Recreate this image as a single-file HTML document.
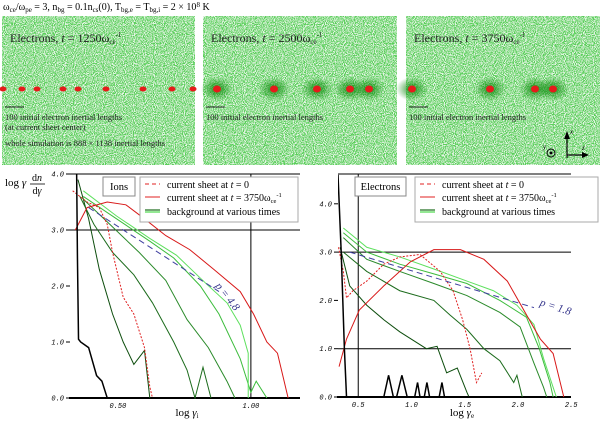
<!DOCTYPE html>
<html><head><meta charset="utf-8"><style>
html,body{margin:0;padding:0;background:#fff;width:600px;height:421px;overflow:hidden}
svg{display:block;font-family:"Liberation Serif","DejaVu Serif",serif}
.tk{font-family:"Liberation Mono",monospace;font-size:7px;font-style:italic}
</style></head><body>
<svg id="fig" width="600" height="421" viewBox="0 0 600 421" xmlns="http://www.w3.org/2000/svg">
<defs>
<filter id="spk" x="0" y="0" width="1" height="1">
<feTurbulence type="fractalNoise" baseFrequency="1.1" numOctaves="1" seed="3" result="n"/>
<feColorMatrix in="n" type="matrix" values="0 0 0 0 0.1  0 0 0 0 0.62  0 0 0 0 0.1  12 0 0 0 -5.4" result="g"/>
<feComposite in="g" in2="SourceGraphic" operator="in"/>
</filter>
<radialGradient id="halo"><stop offset="0" stop-color="#0e8a0e" stop-opacity="0.9"/><stop offset="1" stop-color="#0e8a0e" stop-opacity="0"/></radialGradient>
</defs>
<text x="3" y="10" font-size="10">ω<tspan font-size="7" dy="2">ce</tspan><tspan dy="-2">/ω</tspan><tspan font-size="7" dy="2">pe</tspan><tspan dy="-2"> = 3, n</tspan><tspan font-size="7" dy="2">bg</tspan><tspan dy="-2"> = 0.1n</tspan><tspan font-size="7" dy="2">cs</tspan><tspan dy="-2">(0), T</tspan><tspan font-size="7" dy="2">bg,e</tspan><tspan dy="-2"> = T</tspan><tspan font-size="7" dy="2">bg,i</tspan><tspan dy="-2"> = 2 × 10</tspan><tspan font-size="7" dy="-3">8</tspan><tspan dy="3"> K</tspan></text>
<g id="panels"></g>
<g id="plots"></g>
</svg>
<script>
// ---------- Ions plot data (x: log gamma_i, y: log gamma dn/dgamma) ----------
const ionXTicks=[0.5,1.0];
const ionXTickLabels=["0.50","1.00"];
const ionYTicks=[0,1,2,3,4];
const ionYTickLabels=["0.0","1.0","2.0","3.0","4.0"];
const ionBlackX=[0.345,0.348,0.352,0.36,0.39,0.42,0.44,0.46];
const ionBlackY=[4.0,2.5,1.05,1.0,0.9,0.4,0.3,0.0];
const ionG1X=[0.35,0.39,0.43,0.48,0.52,0.56,0.60,0.62];
const ionG1Y=[3.9,3.2,2.3,1.5,1.0,0.6,0.85,0.0];
const ionG2X=[0.357,0.41,0.48,0.56,0.63,0.71,0.76,0.79,0.82,0.85];
const ionG2Y=[3.6,3.1,2.6,2.2,1.7,1.0,0.5,0.0,0.55,0.0];
const ionG3X=[0.37,0.47,0.58,0.68,0.76,0.84,0.91,0.94];
const ionG3Y=[3.55,3.1,2.6,2.1,1.4,0.9,0.3,0.0];
const ionG4X=[0.37,0.495,0.62,0.71,0.81,0.88,0.96,1.0,1.02,1.06];
const ionG4Y=[3.6,3.2,2.8,2.5,2.0,1.5,0.7,0.1,0.3,0.0];
const ionG5X=[0.37,0.495,0.62,0.72,0.83,0.91,0.96,0.99,0.99];
const ionG5Y=[3.7,3.25,2.85,2.55,2.05,1.7,1.3,0.8,0.0];
const ionRedX=[0.34,0.384,0.46,0.53,0.60,0.68,0.77,0.86,0.96,1.01,1.06,1.1,1.14];
const ionRedY=[3.0,3.4,3.5,3.45,3.2,2.9,2.65,2.3,1.9,1.5,1.0,0.8,0.0];
const ionRedDX=[0.33,0.384,0.43,0.46,0.48,0.52,0.56,0.6,0.62,0.63];
const ionRedDY=[3.7,3.5,3.4,3.1,2.6,1.8,1.5,0.9,0.2,0.0];
const ionFitX=[0.39,0.88];
const ionFitY=[3.4,1.9];
// ---------- Electrons plot data ----------
const eXTicks=[0.5,1.0,1.5,2.0,2.5];
const eXTickLabels=["0.5","1.0","1.5","2.0","2.5"];
const eYTicks=[0,1,2,3,4];
const eYTickLabels=["0.0","1.0","2.0","3.0","4.0"];
const eBlackX=[0.31,0.34,0.37,0.39,0.40,0.74,0.785,0.83,0.86,0.91,0.96,1.03,1.057,1.08,1.12,1.145,1.17,1.26,1.286,1.31,1.6];
const eBlackY=[4.6,3.0,1.0,0.0,0.0,0.0,0.45,0.0,0.0,0.45,0.0,0.0,0.3,0.0,0.0,0.3,0.0,0.0,0.3,0.0,0.0];
const eG1X=[0.33,0.42,0.58,0.74,0.89,1.14,1.24,1.33,1.43,1.52,1.54];
const eG1Y=[3.1,2.3,1.9,1.6,1.35,1.0,1.05,0.5,0.6,0.1,0.0];
const eG2X=[0.36,0.58,0.89,1.21,1.36,1.52,1.68,1.83,1.96,1.99,2.04];
const eG2Y=[3.0,2.6,2.2,2.0,1.7,1.4,1.0,0.75,0.3,0.45,0.0];
const eG3X=[0.36,0.58,0.89,1.21,1.52,1.83,2.02,2.15,2.24,2.27];
const eG3Y=[3.3,2.85,2.6,2.35,2.1,1.75,1.45,0.7,0.2,0.0];
const eG4X=[0.36,0.58,0.89,1.21,1.52,1.83,2.08,2.2,2.3,2.33];
const eG4Y=[3.4,3.0,2.75,2.55,2.35,2.0,1.65,1.0,0.3,0.0];
const eG5X=[0.36,0.58,0.89,1.21,1.52,1.77,1.99,2.15,2.24,2.33,2.36];
const eG5Y=[3.5,3.1,2.9,2.65,2.4,2.2,1.9,1.5,0.8,0.2,0.0];
const eRedX=[0.32,0.39,0.51,0.74,0.99,1.21,1.46,1.68,1.9,2.08,2.21,2.33,2.43];
const eRedY=[0.63,1.2,1.8,2.3,2.8,3.05,3.05,2.85,2.4,1.7,1.2,0.9,0.0];
const eRedDX=[0.315,0.36,0.39,0.45,0.58,0.74,0.89,1.08,1.27,1.39,1.48,1.55,1.61,1.66];
const eRedDY=[3.1,2.6,2.05,2.2,2.4,2.75,2.9,2.95,2.6,2.2,1.6,1.0,0.3,0.5];
const eFitX=[0.42,2.15];
const eFitY=[3.0,1.85];

const NS="http://www.w3.org/2000/svg";
function mk(tag,attrs,parent){const e=document.createElementNS(NS,tag);for(const k in attrs)e.setAttribute(k,attrs[k]);parent.appendChild(e);return e;}

// ---------- top panels ----------
const panels=document.getElementById('panels');
const panelDefs=[{x:2,w:193,t:"1250",blobs:[3,22,37,63,78,106,143,172,193],halo:false},
{x:203,w:194,t:"2500",blobs:[217,274,317,350,369],halo:true},
{x:406,w:194,t:"3750",blobs:[412,490,535,553],halo:true}];
panelDefs.forEach((p,i)=>{
 const g=mk('g',{},panels);
 
 
 mk('rect',{x:p.x,y:16,width:p.w,height:149,fill:'#e4f4e4'},g);
 mk('rect',{x:p.x,y:16,width:p.w,height:149,fill:'#000',filter:'url(#spk)'},g);
 p.blobs.forEach(bx=>{
  if(p.halo) mk('ellipse',{cx:bx,cy:89,rx:16,ry:12,fill:'url(#halo)'},g);
  const b=mk('ellipse',{cx:bx,cy:89,rx:p.halo?4:3.5,ry:p.halo?3.5:2.5,fill:'#e51b1b'},g);
  
  
 });
 const t=mk('text',{x:p.x+8,y:42,'font-size':12,fill:'#222'},g);
 t.innerHTML='Electrons, <tspan font-style="italic">t</tspan> = '+p.t+'ω<tspan font-size="7" dy="2">ce</tspan><tspan font-size="7" dy="-7">-1</tspan>';
 
 
 mk('line',{x1:p.x+3,y1:107,x2:p.x+22,y2:107,stroke:'#222','stroke-width':1},g);
 const s=mk('text',{x:p.x+3,y:120,'font-size':8.5,fill:'#222'},g);
 s.textContent='100 initial electron inertial lengths';
 
 
 if(i===0){
  const a=mk('text',{x:5,y:130,'font-size':8.5,fill:'#222'},g);a.textContent='(at current sheet center)';
  
  
  const b=mk('text',{x:5,y:146,'font-size':8.5,fill:'#222'},g);b.textContent='whole simulation is 888 × 1138 inertial lengths';
  
  
 }
 if(i===2){
  mk('line',{x1:567,y1:158,x2:567,y2:133,stroke:'#000','stroke-width':1.2},g);
  mk('polygon',{points:'564,139 567,131 570,139',fill:'#000'},g);
  mk('line',{x1:567,y1:155,x2:587,y2:155,stroke:'#000','stroke-width':1.2},g);
  mk('polygon',{points:'582,152 589,155 582,158',fill:'#000'},g);
  mk('circle',{cx:551,cy:153,r:4,fill:'none',stroke:'#000'},g);
  mk('circle',{cx:551,cy:153,r:1.5,fill:'#000'},g);
  const ax=mk('text',{x:543,y:149,'font-size':7,'font-style':'italic'},g);ax.textContent='y';
  
  
  const az=mk('text',{x:570,y:134,'font-size':7,'font-style':'italic'},g);az.textContent='x';
  
  
  const ay=mk('text',{x:582,y:150,'font-size':7,'font-style':'italic'},g);ay.textContent='z';
  
  
 }
});

// ---------- plots ----------
const plots=document.getElementById('plots');
function chart(cfg){
 const g=mk('g',{},plots);
 
 
 const sx=v=>cfg.L+(v-cfg.x0)*cfg.kx, sy=v=>cfg.y0px-v*cfg.ky;
 cfg.hlines.forEach(v=>mk('line',{x1:cfg.L,x2:cfg.R,y1:sy(v),y2:sy(v),stroke:'#000','stroke-width':1},g));
 cfg.vlines.forEach(v=>mk('line',{x1:sx(v),x2:sx(v),y1:cfg.T,y2:sy(0),stroke:'#000','stroke-width':1},g));
 mk('line',{x1:cfg.L,x2:cfg.R,y1:cfg.T,y2:cfg.T,stroke:'#000','stroke-width':1},g);
 mk('line',{x1:cfg.L-1,x2:cfg.R,y1:sy(0),y2:sy(0),stroke:'#000','stroke-width':2},g);
 cfg.yt.forEach((v,i)=>{
  mk('line',{x1:cfg.L-4,x2:cfg.L,y1:sy(v),y2:sy(v),stroke:'#000'},g);
  if(sy(v)>=cfg.T-1){const t=mk('text',{x:cfg.L-6,y:sy(v)+2.5,'text-anchor':'end',class:'tk'},g);t.textContent=cfg.ytl[i];
  
  }
 });
 cfg.xt.forEach((v,i)=>{
  const t=mk('text',{x:sx(v),y:sy(0)+10,'text-anchor':'middle',class:'tk'},g);t.textContent=cfg.xtl[i];
  
  
 });
 const xl=mk('text',{x:cfg.xlx,y:416,'font-size':11,'text-anchor':'middle'},g);
 xl.innerHTML='log <tspan font-style="italic">γ</tspan><tspan font-size="7" dy="2">'+cfg.sub+'</tspan>';
 
 
 const clip='clip-'+cfg.name;
 const cp=mk('clipPath',{id:clip},g);mk('rect',{x:cfg.L,y:cfg.T,width:cfg.R-cfg.L,height:sy(0)-cfg.T+1},cp);
 const sg=mk('g',{'clip-path':'url(#'+clip+')'},g);
 cfg.series.forEach(s=>{
  const p=mk('polyline',{points:s.x.map((v,i)=>sx(v)+','+sy(s.y[i])).join(' '),fill:'none',stroke:s.c,'stroke-width':s.w||1,'stroke-dasharray':s.d||'none'},sg);
  
  
 });
 const f=cfg.fit;
 const fl=mk('text',{x:sx(f.lx),y:sy(f.ly),'font-size':11,'font-style':'italic',fill:'#33338a',transform:'rotate('+f.rot+' '+sx(f.lx)+' '+sy(f.ly)+')'},g);
 fl.textContent='p = '+f.p;
 
 
 const sp=cfg.sp;
 const sb=mk('g',{},g);
 
 
 mk('rect',{x:sp.x,y:177,width:sp.w,height:19,fill:'#fff',stroke:'#888'},sb);
 mk('text',{x:sp.x+sp.w/2,y:190,'font-size':10.5,'text-anchor':'middle'},sb).textContent=sp.t;
 const lg=mk('g',{},g);
 
 
 const lx=cfg.lg.x;
 mk('rect',{x:lx,y:177,width:cfg.lg.w,height:45,fill:'#fff',stroke:'#aaa'},lg);
 mk('line',{x1:lx+5,x2:lx+20,y1:184,y2:184,stroke:'#e02020','stroke-dasharray':'4,3'},lg);
 mk('line',{x1:lx+5,x2:lx+20,y1:197,y2:197,stroke:'#e02020'},lg);
 mk('line',{x1:lx+5,x2:lx+20,y1:210,y2:210,stroke:'#1c6b1c','stroke-width':1.2},lg);
 mk('line',{x1:lx+5,x2:lx+20,y1:212,y2:212,stroke:'#4ed84e','stroke-width':1.2},lg);
 const t1=mk('text',{x:lx+27,y:188,'font-size':10},lg);t1.innerHTML='current sheet at <tspan font-style="italic">t</tspan> = 0';
 const t2=mk('text',{x:lx+27,y:201,'font-size':10},lg);t2.innerHTML='current sheet at <tspan font-style="italic">t</tspan> = 3750ω<tspan font-size="6.5" dy="2">ce</tspan><tspan font-size="6.5" dy="-6">-1</tspan>';
 const t3=mk('text',{x:lx+27,y:215,'font-size':10},lg);t3.textContent='background at various times';
}
function series(bx,by,g1x,g1y,g2x,g2y,g3x,g3y,g4x,g4y,g5x,g5y,rx,ry,rdx,rdy,fx,fy){
 return [
 {x:g1x,y:g1y,c:'#0d4d0d',n:'background-earliest'},
 {x:g2x,y:g2y,c:'#1c6b1c',n:'background-early'},
 {x:g3x,y:g3y,c:'#2a8a2a',n:'background-mid'},
 {x:g4x,y:g4y,c:'#3cbc3c',n:'background-late'},
 {x:g5x,y:g5y,c:'#5ee05e',n:'background-latest'},
 {x:rdx,y:rdy,c:'#e02020',d:'2,1.5',n:'current-sheet-t0'},
 {x:rx,y:ry,c:'#d81818',n:'current-sheet-t3750'},
 {x:bx,y:by,c:'#000',w:1.5,n:'initial-distribution'},
 {x:fx,y:fy,c:'#4040a0',d:'6,4',n:'power-law-fit'}];
}
chart({name:'ions-spectrum',L:70,R:300,T:174,x0:0.32,kx:266,y0px:398,ky:56,
 hlines:[3],vlines:[1.0],xt:ionXTicks,xtl:ionXTickLabels,yt:ionYTicks,ytl:ionYTickLabels,xlx:187,sub:'i',
 series:series(ionBlackX,ionBlackY,ionG1X,ionG1Y,ionG2X,ionG2Y,ionG3X,ionG3Y,ionG4X,ionG4Y,ionG5X,ionG5Y,ionRedX,ionRedY,ionRedDX,ionRedDY,ionFitX,ionFitY),
 fit:{p:'4.8',lx:0.865,ly:2.0,rot:52},sp:{x:103,w:32,t:'Ions'},lg:{x:140,w:158}});
chart({name:'electrons-spectrum',L:338,R:571,T:174,x0:0.31,kx:106.5,y0px:397,ky:48.3,
 hlines:[1,3],vlines:[0.5],xt:eXTicks,xtl:eXTickLabels,yt:eYTicks,ytl:eYTickLabels,xlx:462,sub:'e',
 series:series(eBlackX,eBlackY,eG1X,eG1Y,eG2X,eG2Y,eG3X,eG3Y,eG4X,eG4Y,eG5X,eG5Y,eRedX,eRedY,eRedDX,eRedDY,eFitX,eFitY),
 fit:{p:'1.8',lx:2.2,ly:1.9,rot:18},sp:{x:355,w:51,t:'Electrons'},lg:{x:415,w:183}});
const yt=mk('text',{x:5,y:186,'font-size':11},document.getElementById('plots'));
yt.innerHTML='log <tspan font-style="italic">γ</tspan>';


const fr=mk('g',{},document.getElementById('plots'));


mk('text',{x:37,y:181,'font-size':10,'text-anchor':'middle'},fr).innerHTML='d<tspan font-style="italic">n</tspan>';
mk('line',{x1:30,x2:45,y1:184,y2:184,stroke:'#000','stroke-width':0.8},fr);
mk('text',{x:37,y:194,'font-size':10,'text-anchor':'middle'},fr).innerHTML='d<tspan font-style="italic">γ</tspan>';
</script>
</body></html>
